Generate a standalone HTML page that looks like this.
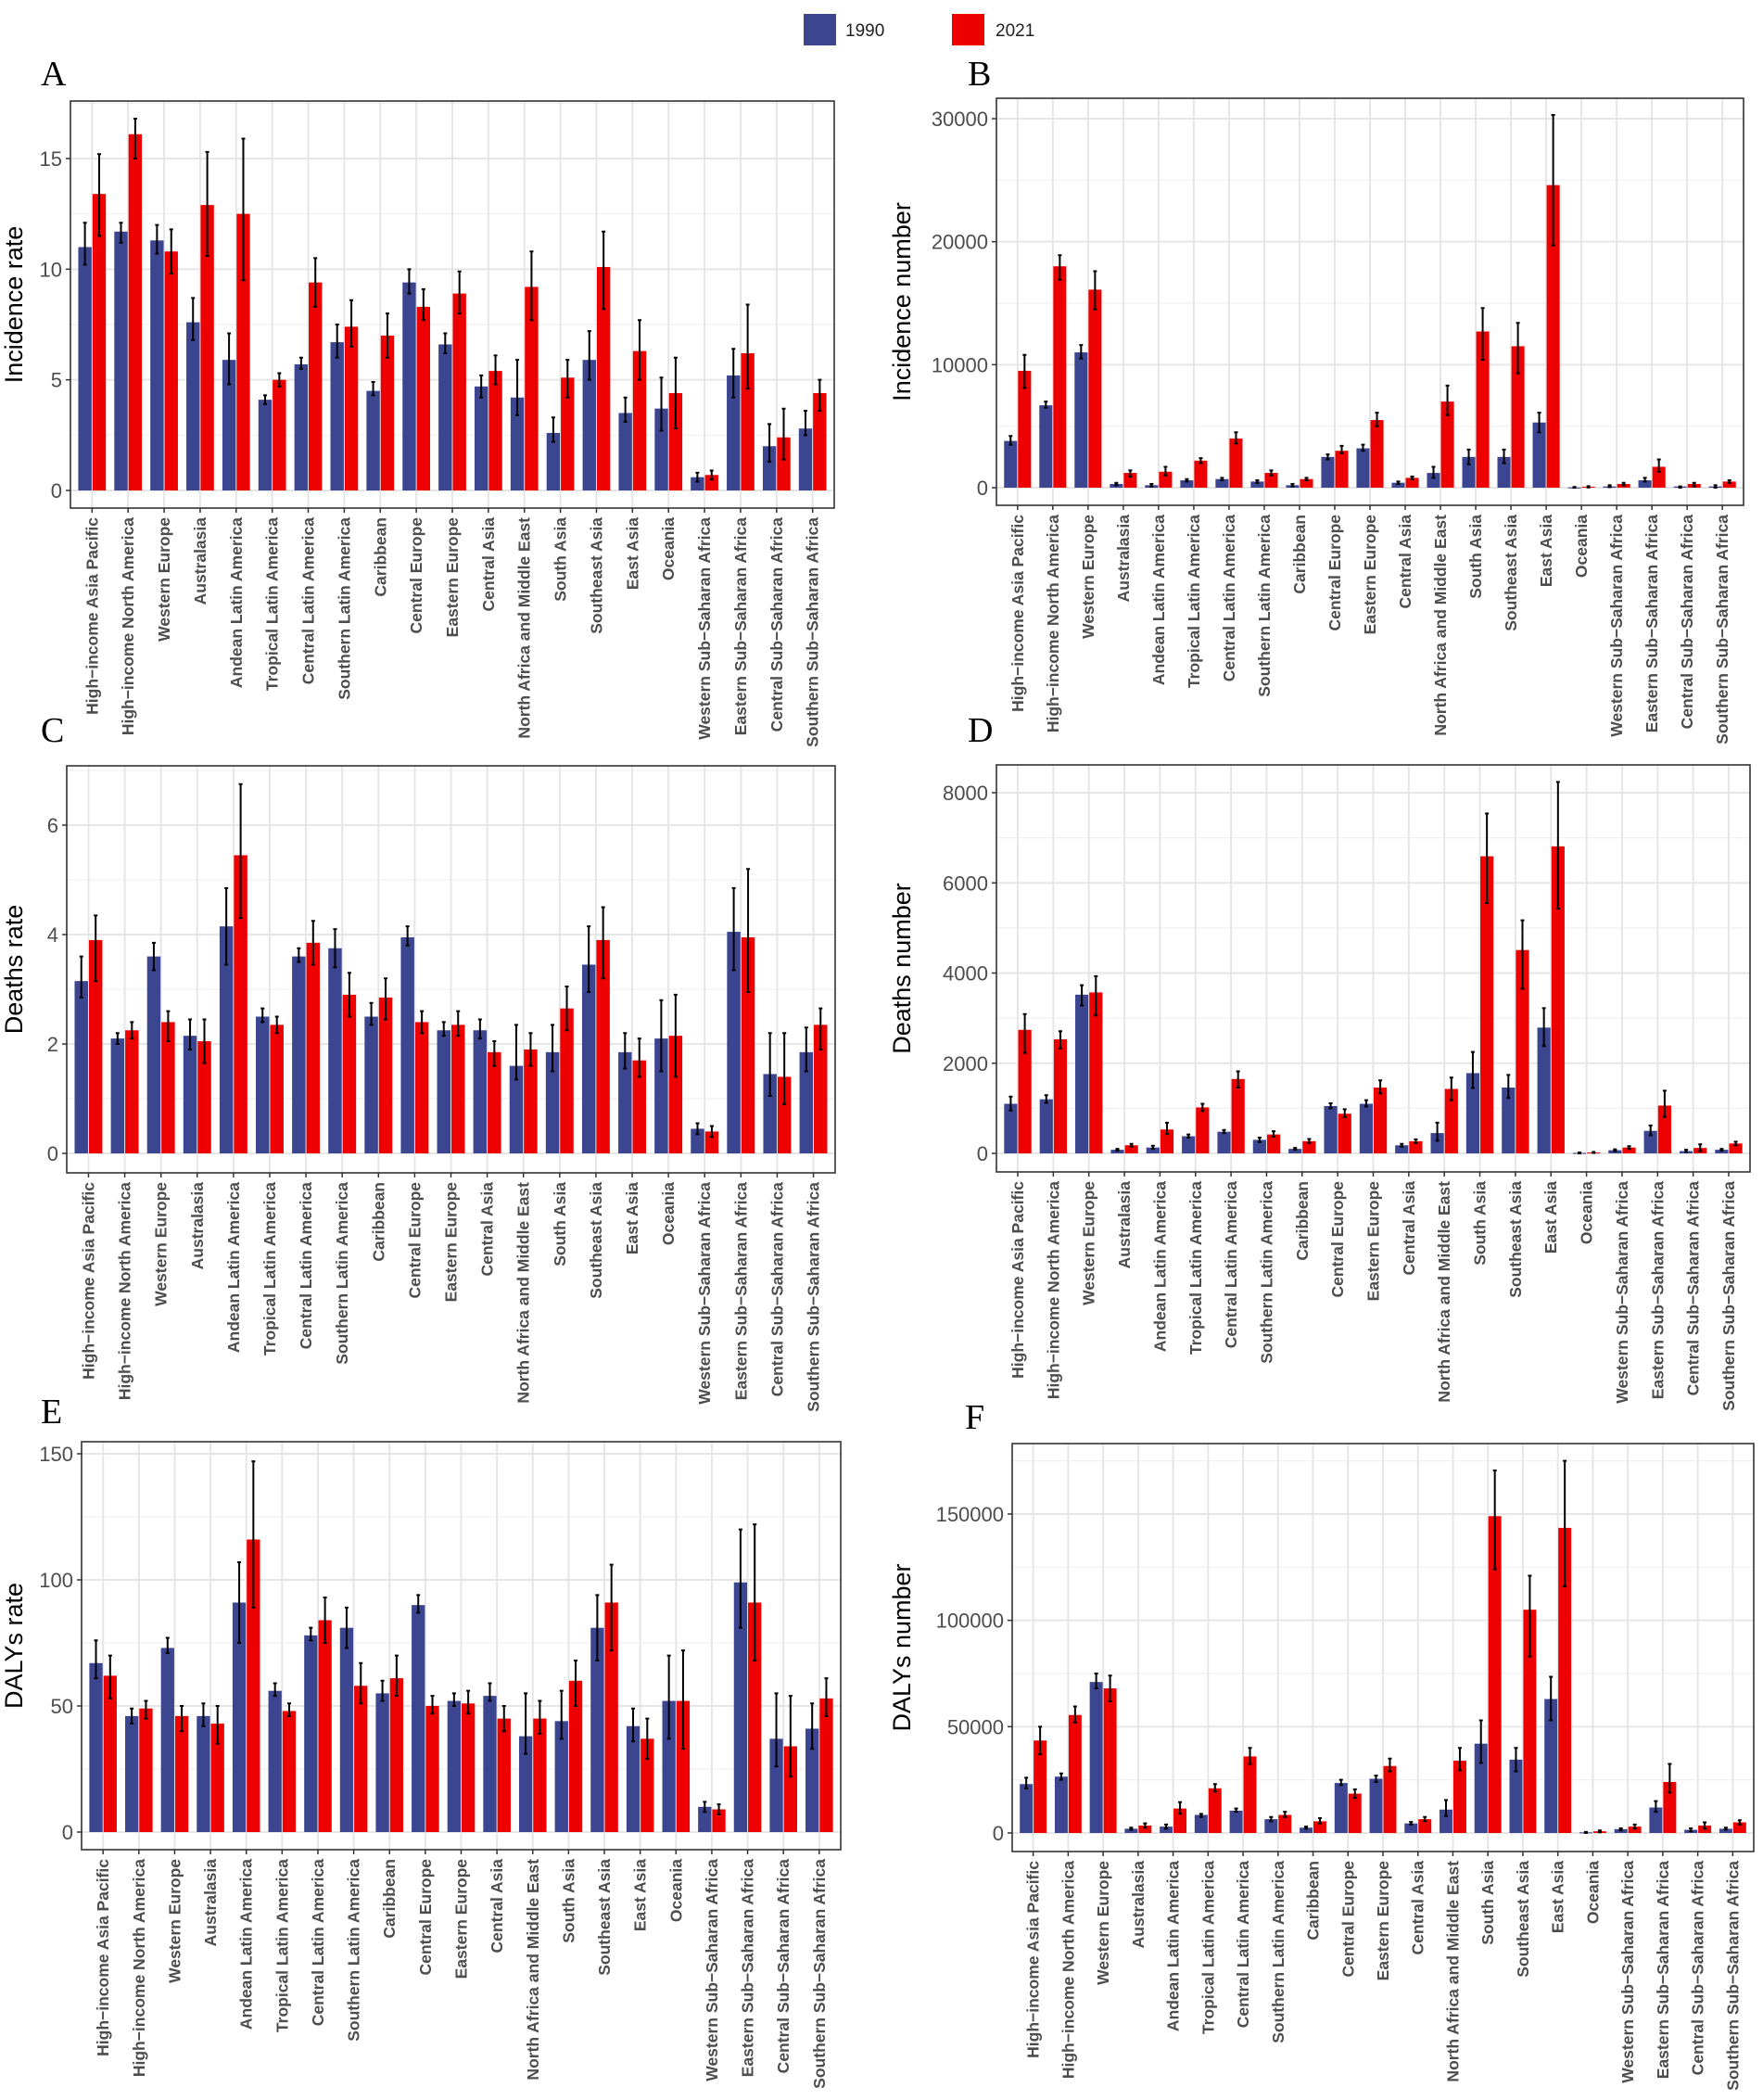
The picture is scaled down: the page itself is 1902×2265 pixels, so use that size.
<!DOCTYPE html>
<html><head><meta charset="utf-8">
<style>
html,body{margin:0;padding:0;background:#fff;}
svg{display:block;font-family:"Liberation Sans",Arial,sans-serif;}
</style></head>
<body>
<svg id="fig" width="1902" height="2265" viewBox="0 0 1902 2265">
  <g>
    <rect x="867" y="15" width="35" height="34" fill="#3b4590"/>
    <text x="912" y="39" font-size="19" fill="#222">1990</text>
    <rect x="1027" y="15" width="35" height="34" fill="#ee0000"/>
    <text x="1074" y="39" font-size="19" fill="#222">2021</text>
  </g>
</svg>
<script>
const categories = ["High−income Asia Pacific","High−income North America","Western Europe","Australasia","Andean Latin America","Tropical Latin America","Central Latin America","Southern Latin America","Caribbean","Central Europe","Eastern Europe","Central Asia","North Africa and Middle East","South Asia","Southeast Asia","East Asia","Oceania","Western Sub−Saharan Africa","Eastern Sub−Saharan Africa","Central Sub−Saharan Africa","Southern Sub−Saharan Africa"];
const catsA = ["High−income Asia Pacific","High−income North America","Western Europe","Australasia","Andean Latin America","Tropical Latin America","Central Latin America","Southern Latin America","Caribbean","Central Europe","Eastern Europe","Central Asia","North Africa and Middle East","South Asia","Southeast Asia","East Asia","Oceania","Western Sub−Saharan Africa","Eastern Sub−Saharan Africa","Central Sub−Saharan Africa","Southern Sub−Saharan Africa"];
const catsB = ["High−income Asia Pacific","High−income North America","Western Europe","Australasia","Andean Latin America","Tropical Latin America","Central Latin America","Southern Latin America","Caribbean","Central Europe","Eastern Europe","Central Asia","North Africa and Middle East","South Asia","Southeast Asia","East Asia","Oceania","Western Sub−Saharan Africa","Eastern Sub−Saharan Africa","Central Sub−Saharan Africa","Southern Sub−Saharan Africa"];

// Panel A: incidence rate
const a1990 = [11.0,11.7,11.3,7.6,5.9,4.1,5.7,6.7,4.5,9.4,6.6,4.7,4.2,2.6,5.9,3.5,3.7,0.6,5.2,2.0,2.8];
const a1990lo = [10.2,11.2,10.7,6.8,4.8,3.9,5.5,6.0,4.3,8.9,6.2,4.2,3.4,2.2,5.0,3.1,2.7,0.4,4.2,1.3,2.5];
const a1990hi = [12.1,12.1,12.0,8.7,7.1,4.3,6.0,7.5,4.9,10.0,7.1,5.2,5.9,3.3,7.2,4.2,5.1,0.8,6.4,3.0,3.6];
const a2021 = [13.4,16.1,10.8,12.9,12.5,5.0,9.4,7.4,7.0,8.3,8.9,5.4,9.2,5.1,10.1,6.3,4.4,0.7,6.2,2.4,4.4];
const a2021lo = [11.5,15.0,9.8,10.6,9.5,4.7,8.3,6.5,6.0,7.7,8.0,4.8,7.7,4.2,8.2,5.0,2.8,0.5,4.6,1.4,3.6];
const a2021hi = [15.2,16.8,11.8,15.3,15.9,5.3,10.5,8.6,8.0,9.1,9.9,6.1,10.8,5.9,11.7,7.7,6.0,0.9,8.4,3.7,5.0];
const aTicks = [0,5,10,15];

// Panel B: incidence number
const b1990 = [3800,6700,11000,300,200,600,700,500,200,2500,3200,400,1200,2500,2500,5300,20,100,600,100,100];
const b1990lo = [3500,6500,10500,200,100,500,600,400,100,2300,3000,300,800,1900,2000,4500,0,50,500,0,0];
const b1990hi = [4200,7000,11600,400,300,700,800,600,300,2700,3500,500,1700,3100,3100,6100,60,200,800,100,200];
const b2021 = [9500,18000,16100,1200,1300,2200,4000,1200,700,3000,5500,800,7000,12700,11500,24600,80,300,1700,300,500];
const b2021lo = [8100,16900,14500,900,1000,2000,3600,1000,600,2800,5000,700,5900,10400,9300,19700,20,200,1300,100,400];
const b2021hi = [10800,18900,17600,1400,1700,2400,4500,1400,800,3400,6100,900,8300,14600,13400,30300,120,400,2300,400,600];
const bTicks = [0,10000,20000,30000];

// Panel C: deaths rate
const c1990 = [3.15,2.1,3.6,2.15,4.15,2.5,3.6,3.75,2.5,3.95,2.25,2.25,1.6,1.85,3.45,1.85,2.1,0.45,4.05,1.45,1.85];
const c1990lo = [2.85,2.0,3.35,1.9,3.45,2.4,3.5,3.4,2.35,3.8,2.15,2.1,1.35,1.5,2.95,1.55,1.5,0.35,3.35,1.05,1.5];
const c1990hi = [3.6,2.2,3.85,2.45,4.85,2.65,3.75,4.1,2.75,4.15,2.4,2.45,2.35,2.35,4.15,2.2,2.8,0.55,4.85,2.2,2.3];
const c2021 = [3.9,2.25,2.4,2.05,5.45,2.35,3.85,2.9,2.85,2.4,2.35,1.85,1.9,2.65,3.9,1.7,2.15,0.4,3.95,1.4,2.35];
const c2021lo = [3.15,2.1,2.05,1.65,4.3,2.2,3.45,2.5,2.45,2.2,2.15,1.6,1.6,2.25,3.2,1.4,1.4,0.3,2.95,0.9,1.9];
const c2021hi = [4.35,2.4,2.6,2.45,6.75,2.5,4.25,3.3,3.2,2.6,2.6,2.05,2.2,3.05,4.5,2.1,2.9,0.5,5.2,2.2,2.65];
const cTicks = [0,2,4,6];

// Panel D: deaths number
const d1990 = [1100,1200,3520,80,130,380,480,300,100,1050,1100,180,450,1780,1460,2790,10,70,500,50,80];
const d1990lo = [950,1120,3280,60,100,350,450,250,80,1000,1040,150,280,1450,1230,2380,0,50,400,30,60];
const d1990hi = [1260,1290,3730,100,170,420,520,350,120,1110,1180,210,680,2250,1740,3220,20,90,620,80,100];
const d2021 = [2740,2530,3570,180,530,1020,1650,420,270,880,1460,270,1430,6590,4510,6810,20,130,1060,120,220];
const d2021lo = [2230,2330,3060,150,430,940,1460,370,230,800,1330,230,1180,5550,3650,5430,10,100,810,50,180];
const d2021hi = [3090,2710,3930,210,680,1100,1820,490,320,980,1620,310,1680,7540,5170,8240,30,160,1390,200,260];
const dTicks = [0,2000,4000,6000,8000];

// Panel E: DALYs rate
const e1990 = [67,46,73,46,91,56,78,81,55,90,52,54,38,44,81,42,52,10,99,37,41];
const e1990lo = [61,43,71,42,75,54,76,73,52,87,50,52,31,37,68,36,37,8,81,26,33];
const e1990hi = [76,49,77,51,107,59,81,89,60,94,55,59,55,56,94,49,70,12,120,55,51];
const e2021 = [62,49,46,43,116,48,84,58,61,50,51,45,45,60,91,37,52,9,91,34,53];
const e2021lo = [53,45,40,35,89,46,75,51,54,47,47,40,39,50,72,29,33,7,68,22,46];
const e2021hi = [70,52,50,50,147,51,93,67,70,54,56,50,52,68,106,45,72,11,122,54,61];
const eTicks = [0,50,100,150];

// Panel F: DALYs number
const f1990 = [23000,26500,71000,2000,3000,8500,10500,6500,2500,23500,25500,4500,11000,42000,34500,63000,300,1800,12000,1500,2000];
const f1990lo = [21000,25000,68000,1500,2000,7500,10000,5500,2000,22500,24000,4000,8000,33000,29000,53000,0,1200,10000,800,1500];
const f1990hi = [26000,28000,75000,2500,4000,9000,11500,7500,3000,25000,27000,5200,15500,53000,40000,73500,500,2200,15000,2200,2500];
const f2021 = [43500,55500,68000,3500,11500,21000,36000,8500,5500,18500,31500,6500,34000,149000,105000,143500,800,3000,24000,3500,5000];
const f2021lo = [37000,52000,62000,2500,9000,19500,32500,7500,4500,16500,29000,5500,29500,124000,83000,116000,300,2000,19000,2000,4000];
const f2021hi = [50000,59500,74000,4500,14500,23000,40000,10000,7000,20500,35000,7500,40000,170500,121000,175000,1200,4000,32500,5000,6000];
const fTicks = [0,50000,100000,150000];

const NS = "http://www.w3.org/2000/svg";
const svg = document.getElementById("fig");
function mk(tag, attrs, parent){ const e=document.createElementNS(NS,tag); for(const k in attrs) e.setAttribute(k,attrs[k]); (parent||svg).appendChild(e); return e; }

const panels = [
 {id:"a",letter:"A",lx:44,ly:92,L:76,R:900,T:109,B:548,z:529,tv:15,tp:171,title:"Incidence rate",tx:24,cats:catsA,v1:a1990,l1:a1990lo,h1:a1990hi,v2:a2021,l2:a2021lo,h2:a2021hi,ticks:aTicks},
 {id:"b",letter:"B",lx:1044,ly:92,L:1075,R:1881,T:106,B:545,z:526,tv:30000,tp:128,title:"Incidence number",tx:982,cats:catsB,v1:b1990,l1:b1990lo,h1:b1990hi,v2:b2021,l2:b2021lo,h2:b2021hi,ticks:bTicks},
 {id:"c",letter:"C",lx:44,ly:800,L:72,R:901,T:826,B:1265,z:1244,tv:6,tp:890,title:"Deaths rate",tx:24,cats:categories,v1:c1990,l1:c1990lo,h1:c1990hi,v2:c2021,l2:c2021lo,h2:c2021hi,ticks:cTicks},
 {id:"d",letter:"D",lx:1044,ly:800,L:1075,R:1888,T:825,B:1264,z:1244,tv:8000,tp:855,title:"Deaths number",tx:982,cats:categories,v1:d1990,l1:d1990lo,h1:d1990hi,v2:d2021,l2:d2021lo,h2:d2021hi,ticks:dTicks},
 {id:"e",letter:"E",lx:44,ly:1535,L:88,R:907,T:1555,B:1995,z:1976,tv:150,tp:1568,title:"DALYs  rate",tx:24,cats:categories,v1:e1990,l1:e1990lo,h1:e1990hi,v2:e2021,l2:e2021lo,h2:e2021hi,ticks:eTicks},
 {id:"f",letter:"F",lx:1041,ly:1541,L:1092,R:1892,T:1557,B:1997,z:1977,tv:150000,tp:1633,title:"DALYs  number",tx:982,cats:categories,v1:f1990,l1:f1990lo,h1:f1990hi,v2:f2021,l2:f2021lo,h2:f2021hi,ticks:fTicks}
];

panels.forEach(p=>{
  const g = mk("g",{});
  
  
  const n = p.cats.length;
  const unit = (p.R-p.L)/(n-1+1.2);
  const xC = i => p.L + (i+0.6)*unit;
  const pxPer = (p.z - p.tp)/p.tv;
  const yS = v => p.z - v*pxPer;
  // letter
  const lt = mk("text",{x:p.lx,y:p.ly,"font-size":38,"font-family":"Liberation Serif,serif",fill:"#000"},g);
  lt.textContent = p.letter;
  
  
  // background
  mk("rect",{x:p.L,y:p.T,width:p.R-p.L,height:p.B-p.T,fill:"#fff"},g);
  const step = p.ticks[1]-p.ticks[0];
  // minor grid
  for(let v=step/2; yS(v)>p.T; v+=step){ if(yS(v)<p.B) mk("line",{x1:p.L,x2:p.R,y1:yS(v),y2:yS(v),stroke:"#f0f0f0","stroke-width":1.2},g); }
  // major grid
  for(let v=0; yS(v)>p.T; v+=step){ mk("line",{x1:p.L,x2:p.R,y1:yS(v),y2:yS(v),stroke:"#e6e6e6","stroke-width":2},g); }
  for(let i=0;i<n;i++) mk("line",{x1:xC(i),x2:xC(i),y1:p.T,y2:p.B,stroke:"#e6e6e6","stroke-width":2},g);
  const bw = unit*0.37;
  for(let i=0;i<n;i++){
    const s = [[p.v1,p.l1,p.h1,"#3b4590",-1,"1990"],[p.v2,p.l2,p.h2,"#ee0000",0,"2021"]];
    s.forEach(([v,lo,hi,col,off,yr])=>{
      const x0 = xC(i)+off*bw+ (off<0?-0.5:0.5);
      const y1 = yS(Math.max(v[i],0)), y0 = yS(0);
      const r = mk("rect",{x:x0,y:Math.min(y1,y0),width:bw,height:Math.max(Math.abs(y0-y1),1),fill:col},g);
      
      
      const cx = x0+bw/2;
      const eb = mk("path",{d:`M${cx},${yS(lo[i])}V${yS(hi[i])}M${cx-2},${yS(lo[i])}h4M${cx-2},${yS(hi[i])}h4`,stroke:"#000","stroke-width":2,fill:"none"},g);
      
      
    });
  }
  // frame
  mk("rect",{x:p.L,y:p.T,width:p.R-p.L,height:p.B-p.T,fill:"none",stroke:"#333","stroke-width":1.6},g);
  // y ticks
  p.ticks.forEach(t=>{
    const y = yS(t);
    mk("line",{x1:p.L-5,x2:p.L,y1:y,y2:y,stroke:"#333","stroke-width":1.5},g);
    const tt = mk("text",{x:p.L-9,y:y+8,"font-size":22,"text-anchor":"end",fill:"#4d4d4d"},g);
    tt.textContent = t;
    
    
  });
  // x ticks & labels
  for(let i=0;i<n;i++){
    const x = xC(i);
    mk("line",{x1:x,x2:x,y1:p.B,y2:p.B+5,stroke:"#333","stroke-width":1.5},g);
    const ct = mk("text",{x:0,y:0,"font-size":17.5,"font-weight":"bold","text-anchor":"end",fill:"#4d4d4d",transform:`translate(${x+6},${p.B+10}) rotate(-90)`},g);
    ct.textContent = p.cats[i];
    
    
  }
  // y title
  const ty = (p.T+p.B)/2;
  const yt = mk("text",{x:0,y:0,"font-size":27,"text-anchor":"middle",fill:"#000",transform:`translate(${p.tx},${ty}) rotate(-90)`},g);
  yt.textContent = p.title;
  
  
});
</script>
</body></html>
